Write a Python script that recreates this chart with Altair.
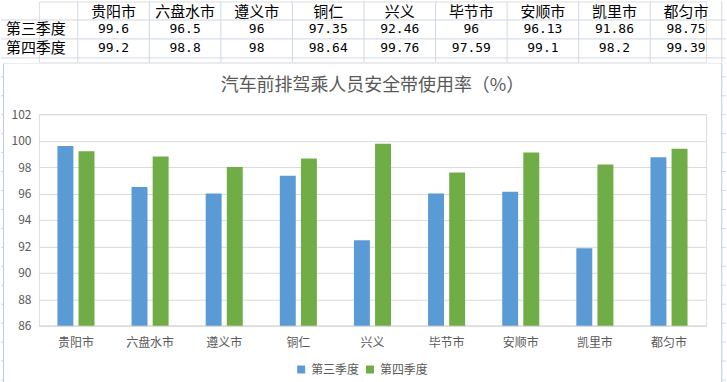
import altair as alt
import pandas as pd

# ---- data ----
cities = ["贵阳市", "六盘水市", "遵义市", "铜仁", "兴义", "毕节市", "安顺市", "凯里市", "都匀市"]
series = ["第三季度", "第四季度"]
q3 = [99.6, 96.5, 96, 97.35, 92.46, 96, 96.13, 91.86, 98.75]
q4 = [99.2, 98.8, 98, 98.64, 99.76, 97.59, 99.1, 98.2, 99.39]
y_ticks = [86, 88, 90, 92, 94, 96, 98, 100, 102]
title_text = "汽车前排驾乘人员安全带使用率（%）"

colors = ["#5B9BD5", "#70AD47"]
grey = "#595959"
cjk = "Noto Sans CJK SC"
sheet_line = "#D0D7E5"
frame_line = "#B8CBE8"

# ---- bar chart data ----
rows = []
for s, vals in zip(series, [q3, q4]):
    for c, v in zip(cities, vals):
        rows.append({"city": c, "series": s, "value": v})
bars_df = pd.DataFrame(rows)

# ---- table (spreadsheet cells above the chart) ----
X_LO, X_HI = -1.0732, 9.0592   # column units (city columns are 0..9)
X_LEFT_FRAME = -1.038          # left edge of the chart object
Y_LO, Y_HI = 0.0263, 3.237     # row units (header row = 0..1)
Y_FRAME_TOP, Y_END = 3.289, 20.13

cells = []
for j, c in enumerate(cities):
    cells.append({"x": j + 0.5, "row": 0.5, "text": c, "kind": "head"})
for r, (s, vals) in enumerate(zip(series, [q3, q4]), start=1):
    cells.append({"x": X_LO, "row": r + 0.5, "text": s, "kind": "label"})
    for j, v in enumerate(vals):
        cells.append({"x": j + 0.5, "row": r + 0.5, "text": f"{v:g}", "kind": "num"})
cells_df = pd.DataFrame(cells)

vlines = pd.DataFrame({"x": list(range(0, 10)), "y0": [Y_LO] * 10, "y1": [Y_HI] * 10})
hlines = pd.DataFrame({"y": [1, 2, 3], "x0": [X_LO] * 3, "x1": [X_HI] * 3})
# sheet row lines peeking out on both sides of the chart object
side_rows = list(range(4, 21))
ticks_df = pd.DataFrame(
    [{"y": r, "x0": 9, "x1": X_HI} for r in side_rows]
    + [{"y": r, "x0": X_LO, "x1": X_LEFT_FRAME} for r in side_rows]
)
frame_df = pd.DataFrame({"x": [X_LEFT_FRAME, 9], "y0": [Y_FRAME_TOP] * 2, "y1": [Y_END] * 2})
frame_top_df = pd.DataFrame({"y": [Y_FRAME_TOP], "x0": [X_LEFT_FRAME], "x1": [9]})

tx = alt.Scale(domain=[X_LO, X_HI], range=[-38, 689], nice=False, zero=False)
ty = alt.Scale(domain=[Y_LO, Y_HI], nice=False, zero=False, reverse=True)

def vrule(df, color):
    return alt.Chart(df).mark_rule(color=color, strokeWidth=1).encode(
        x=alt.X("x:Q", scale=tx, axis=None),
        y=alt.Y("y0:Q", scale=ty, axis=None),
        y2="y1:Q",
    )

def hrule(df, color):
    return alt.Chart(df).mark_rule(color=color, strokeWidth=1).encode(
        x=alt.X("x0:Q", scale=tx, axis=None),
        x2="x1:Q",
        y=alt.Y("y:Q", scale=ty, axis=None),
    )

t_head = alt.Chart(cells_df[cells_df.kind == "head"]).mark_text(
    font=cjk, fontSize=15, color="black", align="center", baseline="middle", dy=1.5
).encode(x=alt.X("x:Q", scale=tx, axis=None), y=alt.Y("row:Q", scale=ty, axis=None), text="text:N")
t_lab = alt.Chart(cells_df[cells_df.kind == "label"]).mark_text(
    font=cjk, fontSize=15, color="black", align="left", baseline="middle", dx=5
).encode(x=alt.X("x:Q", scale=tx, axis=None), y=alt.Y("row:Q", scale=ty, axis=None), text="text:N")
t_num = alt.Chart(cells_df[cells_df.kind == "num"]).mark_text(
    font="DejaVu Sans Mono", fontSize=13, color="black", align="center", baseline="middle"
).encode(x=alt.X("x:Q", scale=tx, axis=None), y=alt.Y("row:Q", scale=ty, axis=None), text="text:N")

table = alt.layer(
    vrule(vlines, sheet_line), hrule(hlines, sheet_line), hrule(ticks_df, sheet_line),
    hrule(frame_top_df, "#EBEBEB"), vrule(frame_df, frame_line),
    t_head, t_lab, t_num,
).properties(width=669, height=61)

# ---- bar chart ----
bar = alt.Chart(bars_df).mark_bar(clip=True).encode(
    x=alt.X("city:N", sort=cities,
            scale=alt.Scale(paddingInner=0.5, paddingOuter=0.25),
            axis=alt.Axis(title=None, labelAngle=0, labelFont=cjk, labelFontSize=12,
                          labelColor=grey, ticks=False, domain=True, domainColor="#D9D9D9",
                          labelPadding=12)),
    xOffset=alt.XOffset("series:N", sort=series, scale=alt.Scale(paddingInner=0.245, paddingOuter=0)),
    y=alt.Y("value:Q", scale=alt.Scale(domain=[86, 102], zero=False, nice=False),
            axis=alt.Axis(title=None, values=y_ticks, labelFont=cjk, labelFontSize=12,
                          labelColor=grey, ticks=False, domain=False, gridColor="#D9D9D9",
                          labelPadding=8)),
    color=alt.Color("series:N", sort=series,
                    scale=alt.Scale(domain=series, range=colors),
                    legend=alt.Legend(title=None, orient="none", direction="horizontal",
                                      legendX=257, legendY=363,
                                      symbolType="square", symbolSize=64, labelFont=cjk,
                                      labelFontSize=12, labelColor=grey, columnPadding=4,
                                      labelOffset=4)),
).properties(
    width=669, height=212,
    title=alt.TitleParams(title_text, font=cjk, fontSize=18, fontWeight="normal",
                          color=grey, offset=13, anchor="middle"),
)

chart = alt.vconcat(table, bar, spacing=52, bounds="flush").configure_view(stroke=None).configure(
    padding=0, background="white"
)

chart.save("out.html", embed_options={"renderer": "svg", "actions": False})
